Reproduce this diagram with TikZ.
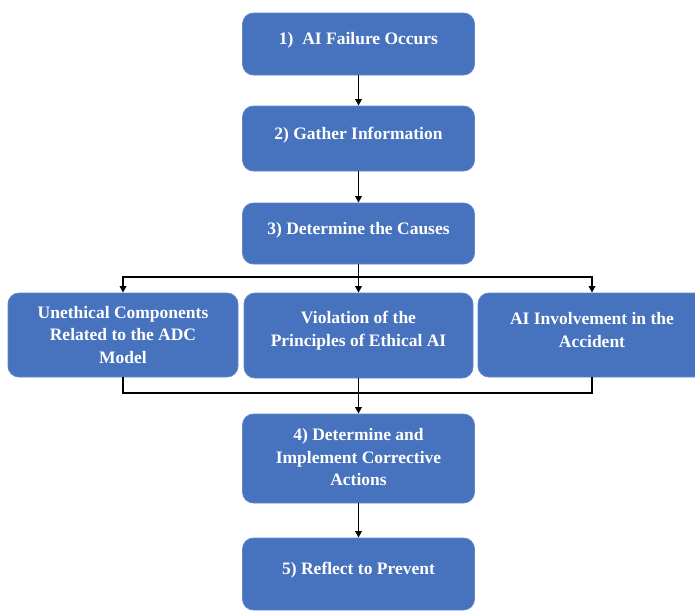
\documentclass[tikz,border=0pt]{standalone}
\usepackage{fontspec}
\setmainfont{Liberation Serif}
\usetikzlibrary{arrows.meta}
\definecolor{boxblue}{RGB}{70,114,190}
\definecolor{boxedge}{RGB}{95,135,205}
\tikzset{
  box/.style={draw=boxedge, line width=0.8pt, fill=boxblue, rounded corners=11pt, inner sep=0pt},
  lbl/.style={text=white, align=center, font=\bfseries\fontsize{17.5}{22.5}\selectfont},
  link/.style={draw=black, line width=1.6pt},
  arr/.style={link, -{Triangle[length=6.5pt,width=6.5pt]}}
}
\begin{document}
\begin{tikzpicture}[x=1pt,y=-1pt]
\clip (0,0) rectangle (695,611);
\fill[white] (0,0) rectangle (695,611);
% boxes
\node[box, minimum width=232pt, minimum height=62pt] (b1) at (358.5,44) {};
\node[box, minimum width=232pt, minimum height=65pt] (b2) at (358.5,138.5) {};
\node[box, minimum width=232pt, minimum height=61pt] (b3) at (358.5,233.5) {};
\node[box, minimum width=230pt, minimum height=84pt] (cl) at (123,335) {};
\node[box, minimum width=229pt, minimum height=85pt] (cm) at (358.5,335.5) {};
\node[box, minimum width=228pt, minimum height=84pt] (cr) at (592,335) {};
\node[box, minimum width=232pt, minimum height=89pt] (b4) at (358.5,458.5) {};
\node[box, minimum width=232pt, minimum height=72pt] (b5) at (358.5,574) {};
% labels
\node[lbl] (t1) at ([yshift=3.5pt]b1.center) {1)\ \ AI Failure Occurs};
\node[lbl] (t2) at ([yshift=3.5pt]b2.center) {2) Gather Information};
\node[lbl] (t3) at ([yshift=3.5pt]b3.center) {3) Determine the Causes};
\node[lbl] (tl) at ([yshift=0pt]cl.center) {Unethical Components\\Related to the ADC\\Model};
\node[lbl] (tm) at ([yshift=5pt]cm.center) {Violation of the\\Principles of Ethical AI};
\node[lbl] (tr) at ([yshift=5pt]cr.center) {AI Involvement in the\\Accident};
\node[lbl] (t4) at ([yshift=1pt]b4.center) {4) Determine and\\Implement Corrective\\Actions};
\node[lbl] (t5) at ([yshift=3.5pt]b5.center) {5) Reflect to Prevent};
% junctions
\coordinate (split) at (358.5,277);
\coordinate (join) at (358.5,393);
% connectors
\draw[arr] (b1.south) -- (b2.north);
\draw[arr] (b2.south) -- (b3.north);
\draw[link] (b3.south) -- (split);
\draw[arr] (split) -| (cl.north);
\draw[arr] (split) -| (cr.north);
\draw[arr] (split) -- (cm.north);
\draw[link] (cl.south) |- (join);
\draw[link] (cr.south) |- (join);
\draw[arr] (cm.south) -- (b4.north);
\draw[arr] (b4.south) -- (b5.north);
\end{tikzpicture}
\end{document}
